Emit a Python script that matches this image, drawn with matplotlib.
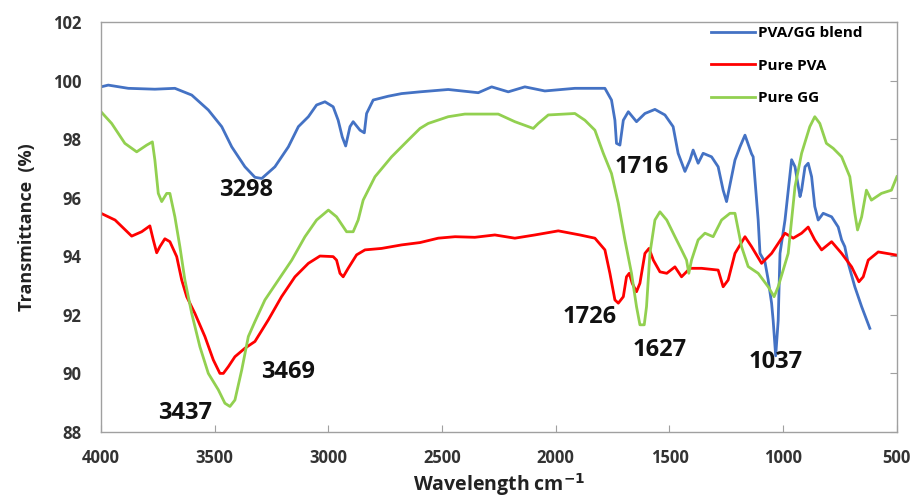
import matplotlib
matplotlib.use("Agg")
import matplotlib.pyplot as plt

plt.rcParams['font.family'] = ['Open Sans', 'DejaVu Sans']

# PVA/GG blend (blue)
blend_x = [4000, 3968, 3880, 3763, 3675, 3601, 3528, 3469, 3425, 3367, 3323, 3293, 3235, 3176, 3132,
           3088, 3052, 3015, 2979, 2957, 2939, 2924, 2905, 2891, 2861, 2842, 2832, 2803, 2737, 2678,
           2597, 2473, 2341, 2282, 2209, 2136, 2048, 1916, 1784, 1755, 1740, 1733, 1718, 1703, 1681,
           1645, 1608, 1564, 1520, 1484, 1462, 1432, 1410, 1396, 1374, 1352, 1315, 1286, 1264, 1249,
           1212, 1190, 1168, 1139, 1132, 1110, 1102, 1080, 1066, 1051, 1044, 1033, 1022, 1014, 992,
           963, 948, 926, 919, 904, 890, 875, 861, 846, 824, 787, 758, 743, 729, 714, 685, 655, 619]
blend_y = [99.79, 99.85, 99.74, 99.71, 99.74, 99.51, 99.0, 98.43, 97.74, 97.06, 96.7, 96.66, 97.06, 97.74, 98.43,
           98.77, 99.17, 99.28, 99.11, 98.65, 98.08, 97.77, 98.43, 98.6, 98.31, 98.22, 98.88, 99.34, 99.47, 99.56,
           99.62, 99.7, 99.59, 99.79, 99.62, 99.79, 99.65, 99.74, 99.74, 99.34, 98.65, 97.86, 97.8, 98.65, 98.94,
           98.6, 98.88, 99.02, 98.83, 98.43, 97.52, 96.9, 97.29, 97.63, 97.18, 97.52, 97.4, 97.06, 96.26, 95.87,
           97.29, 97.74, 98.14, 97.5, 97.4, 95.24, 94.1, 93.8, 93.2, 92.4, 91.8, 90.6, 91.8, 94.1, 95.24,
           97.3, 97.06, 96.04, 96.26, 97.06, 97.18, 96.72, 95.7, 95.24, 95.47, 95.35, 95.0, 94.56, 94.33, 93.76,
           92.96, 92.28, 91.54]

# pure PVA (red)
pva_x = [4000, 3938, 3865, 3821, 3785, 3770, 3755, 3741, 3719, 3697, 3667, 3645, 3623, 3587, 3543,
         3506, 3477, 3462, 3440, 3411, 3367, 3323, 3264, 3206, 3147, 3088, 3037, 2979, 2964, 2949,
         2935, 2913, 2876, 2839, 2766, 2678, 2597, 2517, 2443, 2356, 2268, 2180, 2092, 1989, 1894,
         1828, 1784, 1762, 1740, 1725, 1703, 1689, 1677, 1664, 1645, 1630, 1608, 1590, 1571, 1542,
         1512, 1476, 1447, 1410, 1359, 1286, 1264, 1242, 1212, 1168, 1139, 1095, 1051, 992, 956,
         919, 890, 861, 831, 787, 743, 699, 667, 648, 626, 582, 500]
pva_y = [95.47, 95.24, 94.69, 94.84, 95.04, 94.56, 94.12, 94.33, 94.6, 94.5, 93.99, 93.19, 92.62, 92.05, 91.26,
         90.46, 90.0, 90.0, 90.23, 90.57, 90.86, 91.09, 91.83, 92.62, 93.3, 93.76, 94.01, 93.99, 93.87, 93.42,
         93.3, 93.59, 94.05, 94.22, 94.27, 94.39, 94.47, 94.62, 94.67, 94.65, 94.73, 94.62, 94.73, 94.87, 94.73,
         94.62, 94.22, 93.42, 92.51, 92.4, 92.62, 93.3, 93.42, 93.08, 92.79, 93.08, 94.1, 94.27, 93.87, 93.47,
         93.42, 93.64, 93.3, 93.59, 93.59, 93.53, 92.96, 93.19, 94.1, 94.67, 94.33, 93.76, 94.1, 94.79, 94.62,
         94.79, 95.0, 94.56, 94.22, 94.5, 94.1, 93.64, 93.13, 93.3, 93.87, 94.15, 94.04]

# pure GG (green)
gg_x = [4000, 3953, 3895, 3843, 3799, 3774, 3763, 3748, 3733, 3711, 3697, 3675, 3653, 3631, 3601,
        3565, 3528, 3484, 3455, 3433, 3411, 3381, 3352, 3323, 3279, 3220, 3161, 3103, 3052, 3000,
        2964, 2920, 2891, 2869, 2847, 2795, 2722, 2649, 2597, 2561, 2473, 2400, 2253, 2180, 2099,
        2077, 2033, 1916, 1872, 1828, 1791, 1755, 1725, 1696, 1667, 1645, 1630, 1611, 1601, 1586,
        1564, 1542, 1512, 1476, 1447, 1425, 1415, 1403, 1374, 1344, 1308, 1271, 1234, 1212, 1183,
        1154, 1110, 1066, 1040, 1022, 978, 948, 919, 883, 861, 839, 810, 780, 743, 707,
        685, 673, 655, 634, 612, 568, 524, 500]
gg_y = [98.94, 98.54, 97.86, 97.57, 97.8, 97.91, 97.29, 96.15, 95.87, 96.15, 96.15, 95.35, 94.33, 93.19, 92.05,
        90.91, 90.0, 89.44, 88.98, 88.87, 89.09, 90.12, 91.26, 91.77, 92.51, 93.19, 93.87, 94.67, 95.24, 95.58,
        95.35, 94.84, 94.84, 95.24, 95.92, 96.72, 97.4, 97.97, 98.37, 98.54, 98.77, 98.86, 98.86, 98.6, 98.37,
        98.54, 98.83, 98.88, 98.65, 98.31, 97.52, 96.83, 95.81, 94.56, 93.42, 92.28, 91.66, 91.66, 92.28, 94.1,
        95.24, 95.52, 95.24, 94.67, 94.22, 93.87, 93.42, 93.87, 94.56, 94.79, 94.67, 95.24, 95.47, 95.47, 94.33,
        93.65, 93.42, 92.96, 92.62, 92.96, 94.1, 96.38, 97.52, 98.43, 98.77, 98.54, 97.86, 97.69, 97.4, 96.72,
        95.47, 94.9, 95.35, 96.26, 95.92, 96.15, 96.26, 96.72]

# peak labels: text, x, y
peak_text = ["3298", "3437", "3469", "1716", "1726", "1627", "1037"]
peak_x = [3362, 3631, 3178, 1621, 1850, 1542, 1032]
peak_y = [96.26, 88.65, 90.05, 97.05, 91.93, 90.8, 90.4]

fig = plt.figure(figsize=(9.18, 5.04), dpi=100)
ax = fig.add_axes([0.110, 0.143, 0.867, 0.813])

ax.plot(blend_x, blend_y, color="#4472C4", lw=2.0, label="PVA/GG blend", solid_joinstyle="round")
ax.plot(pva_x, pva_y, color="#FF0000", lw=2.0, label="Pure PVA", solid_joinstyle="round")
ax.plot(gg_x, gg_y, color="#92D050", lw=2.0, label="Pure GG", solid_joinstyle="round")

for t, x, y in zip(peak_text, peak_x, peak_y):
    ax.text(x, y, t, fontsize=17, fontweight="bold", ha="center", va="center", color="#111111")

ax.set_xlim(4000, 500)
ax.set_ylim(88, 102)
ax.set_xticks([4000, 3500, 3000, 2500, 2000, 1500, 1000, 500])
ax.set_yticks(range(88, 103, 2))

for s in ax.spines.values():
    s.set_color("#A0A0A0")
    s.set_linewidth(1.0)

ax.tick_params(axis="y", left=False, right=True, direction="in", length=5, color="#A0A0A0",
               labelsize=12, labelcolor="#333333", pad=14)
ax.tick_params(axis="x", bottom=True, direction="in", length=5, color="#A0A0A0",
               labelsize=12, labelcolor="#333333", pad=12)
for lab in ax.get_xticklabels() + ax.get_yticklabels():
    lab.set_fontweight("bold")

ax.set_xlabel("Wavelength cm$^{\\mathbf{-1}}$", fontsize=14, fontweight="bold", color="#222222", labelpad=3)
ax.set_ylabel("Transmittance  (%)", fontsize=13, fontweight="bold", color="#222222", labelpad=12)

leg = ax.legend(loc="upper left", bbox_to_anchor=(0.755, 1.012), frameon=False,
                prop={"weight": "bold", "size": 11}, handlelength=2.9, handletextpad=0.2,
                labelspacing=1.2, borderaxespad=0.2)

fig.savefig("out.png", dpi=100)
